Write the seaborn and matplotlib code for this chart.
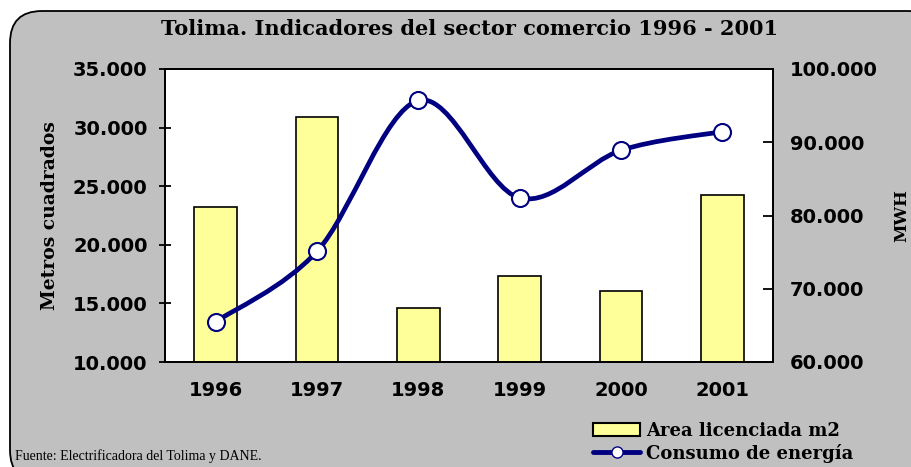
import matplotlib
matplotlib.use("Agg")
import matplotlib.pyplot as plt
from matplotlib.patches import FancyBboxPatch, PathPatch, Patch
from matplotlib.lines import Line2D
from matplotlib.path import Path
import pandas as pd
import seaborn as sns

# --------------------------------------------------
# Data
# --------------------------------------------------
years = ["1996", "1997", "1998", "1999", "2000", "2001"]
area_m2 = [23200, 30900, 14600, 17300, 16100, 24250]      # Area licenciada m2
energia_mwh = [65500, 75100, 95700, 82400, 88900, 91450]  # Consumo de energia

left_ticks = [10000, 15000, 20000, 25000, 30000, 35000]
right_ticks = [60000, 70000, 80000, 90000, 100000]

NAVY = "#000080"
BAR_YELLOW = "#FFFF99"
PANEL_GRAY = "#C0C0C0"

sns.set_style("white")
plt.rcParams["font.family"] = ["DejaVu Sans"]
plt.rcParams["text.color"] = "black"
plt.rcParams["xtick.color"] = "black"
plt.rcParams["ytick.color"] = "black"
plt.rcParams["axes.labelcolor"] = "black"

df = pd.DataFrame({"year": years, "area": area_m2, "mwh": energia_mwh})


def miles(v):
    return f"{v:,.0f}".replace(",", ".")


fig = plt.figure(figsize=(9.11, 4.67), dpi=100)
fig.patch.set_facecolor("white")

# rounded grey panel behind everything (runs off the right and bottom edges)
panel = FancyBboxPatch((0.10, -0.15), 9.3, 4.71,
                       boxstyle="round,pad=0,rounding_size=0.32",
                       transform=fig.dpi_scale_trans,
                       facecolor=PANEL_GRAY, edgecolor="black",
                       linewidth=1.3, zorder=-5)
fig.patches.append(panel)

ax = fig.add_axes([165 / 911, 1 - 362 / 467, (773 - 165) / 911, (362 - 69) / 467])
ax.set_facecolor("white")

# --------------------------------------------------
# Bars: area licenciada
# --------------------------------------------------
sns.barplot(data=df, x="year", y="area", ax=ax, color=BAR_YELLOW,
            saturation=1, width=0.42, edgecolor="black", linewidth=1.2)
ax.set_ylim(10000, 35000)
ax.set_xlim(-0.5, len(years) - 0.5)
ax.set_yticks(left_ticks)
ax.set_yticklabels([miles(v) for v in left_ticks])
ax.set_xlabel("")
ax.set_ylabel("Metros cuadrados", fontsize=13.5, fontweight="bold",
              family="DejaVu Serif", labelpad=10)

ax.set_xticks(range(len(years)))
ax.set_xticks([i + 0.5 for i in range(len(years) - 1)], minor=True)
ax.tick_params(axis="x", which="major", length=0, pad=14, labelsize=14)
ax.tick_params(axis="x", which="minor", length=9, width=1.3,
               direction="inout", color="black")
ax.tick_params(axis="y", length=9, width=1.3, direction="inout",
               pad=8, labelsize=14)
for lbl in ax.get_xticklabels() + ax.get_yticklabels():
    lbl.set_fontweight("bold")

# --------------------------------------------------
# Smoothed line: consumo de energia (secondary axis)
# --------------------------------------------------
ax2 = ax.twinx()
ax2.set_ylim(60000, 100000)
ax2.set_yticks(right_ticks)
ax2.set_yticklabels([miles(v) for v in right_ticks])
ax2.tick_params(axis="y", length=7, width=1.3, direction="in",
                pad=12, labelsize=14)
for lbl in ax2.get_yticklabels():
    lbl.set_fontweight("bold")
ax2.set_ylabel("MWH", fontsize=12, fontweight="bold",
               family="DejaVu Serif", labelpad=11)

# Excel-style smoothing: Bezier segments with Catmull-Rom control points
pts = list(zip(range(len(years)), energia_mwh))
verts = [pts[0]]
codes = [Path.MOVETO]
for i in range(len(pts) - 1):
    p0 = pts[i - 1] if i > 0 else pts[i]
    p1 = pts[i]
    p2 = pts[i + 1]
    p3 = pts[i + 2] if i + 2 < len(pts) else pts[i + 1]
    c1 = (p1[0] + (p2[0] - p0[0]) / 6, p1[1] + (p2[1] - p0[1]) / 6)
    c2 = (p2[0] - (p3[0] - p1[0]) / 6, p2[1] - (p3[1] - p1[1]) / 6)
    verts += [c1, c2, p2]
    codes += [Path.CURVE4] * 3
ax2.add_patch(PathPatch(Path(verts, codes), facecolor="none",
                        edgecolor=NAVY, linewidth=3.4,
                        capstyle="round", joinstyle="round", zorder=3))

sns.scatterplot(x=list(range(len(years))), y=energia_mwh, ax=ax2,
                s=150, color="white", edgecolor=NAVY, linewidth=1.5,
                zorder=4, legend=False)

for a in (ax, ax2):
    for sp in a.spines.values():
        sp.set_visible(True)
        sp.set_color("black")
        sp.set_linewidth(1.3)

# --------------------------------------------------
# Title, legend, source note
# --------------------------------------------------
fig.text(470 / 911, 1 - 29 / 467,
         "Tolima. Indicadores del sector comercio 1996 - 2001",
         ha="center", va="center", fontsize=15, fontweight="bold",
         family="DejaVu Serif")

handles = [
    Patch(facecolor=BAR_YELLOW, edgecolor="black", linewidth=1.5),
    Line2D([0], [0], color=NAVY, linewidth=3.5, marker="o",
           markersize=8, markerfacecolor="white", markeredgecolor=NAVY),
]
fig.legend(handles, ["Area licenciada m2", "Consumo de energía"],
           loc="upper left", bbox_to_anchor=(584 / 911, 1 - 413 / 467),
           frameon=False, handlelength=2.6, handleheight=0.75,
           handletextpad=0.35, labelspacing=0.2, borderpad=0,
           prop={"family": "DejaVu Serif", "weight": "bold", "size": 13})

fig.text(15 / 911, 1 - 456 / 467,
         "Fuente: Electrificadora del Tolima y DANE.",
         ha="left", va="center", fontsize=10, family="Liberation Serif")

fig.savefig("out.png", dpi=100, facecolor=fig.get_facecolor())
plt.close(fig)
